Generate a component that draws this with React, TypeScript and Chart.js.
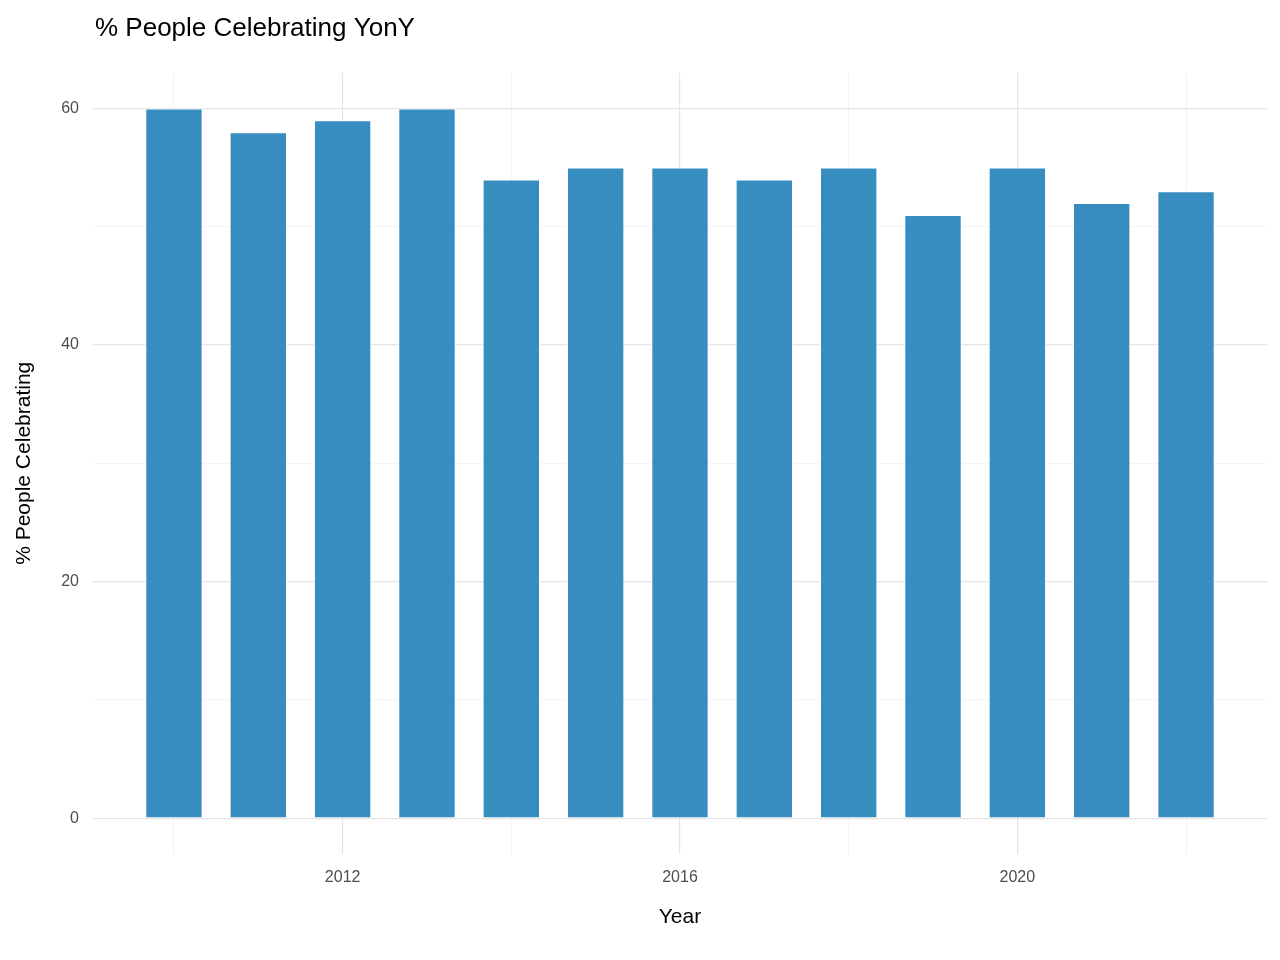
import React, { useEffect, useRef } from 'react';
import { Chart, registerables } from 'chart.js';

Chart.register(...registerables);

const years = [2010, 2011, 2012, 2013, 2014, 2015, 2016, 2017, 2018, 2019, 2020, 2021, 2022];
const pctCelebrating = [60, 58, 59, 60, 54, 55, 55, 54, 55, 51, 55, 52, 53];
const xMajorTicks = [2012, 2016, 2020];
const yMajorTicks = [0, 20, 40, 60];

const FONT = '"Liberation Sans", Arial, sans-serif';

// ggplot-like left-aligned title over the panel
const titlePlugin = {
  id: 'leftTitle',
  afterDraw(chart: any) {
    const { ctx, chartArea } = chart;
    ctx.save();
    ctx.fillStyle = '#000';
    ctx.font = `26px ${FONT}`;
    ctx.textBaseline = 'middle';
    ctx.textAlign = 'left';
    ctx.fillText('% People Celebrating YonY', chartArea.left + 2, 29);
    ctx.restore();
  },
};

export default function App() {
  const canvasRef = useRef<HTMLCanvasElement | null>(null);

  useEffect(() => {
    document.body.style.margin = '0';
    const canvas = canvasRef.current;
    if (!canvas) return;

    const chart = new Chart(canvas, {
      type: 'bar',
      data: {
        datasets: [
          {
            data: years.map((y, i) => ({ x: y, y: pctCelebrating[i] })),
            backgroundColor: '#378dbf',
            borderColor: '#ffffff',
            borderWidth: 1,
            barPercentage: 0.68,
            categoryPercentage: 1,
          },
        ],
      },
      options: {
        animation: false,
        responsive: false,
        layout: { padding: { top: 73, right: 13, bottom: 26, left: 8 } },
        plugins: { legend: { display: false }, tooltip: { enabled: false } },
        scales: {
          x: {
            type: 'linear',
            min: 2009.04,
            max: 2022.96,
            offset: false,
            border: { display: false },
            grid: {
              offset: false,
              drawTicks: false,
              color: (c: any) => (xMajorTicks.includes(c.tick?.value) ? '#e5e5e5' : '#f4f4f4'),
              lineWidth: (c: any) => (xMajorTicks.includes(c.tick?.value) ? 1.2 : 1),
            },
            afterBuildTicks: (axis: any) => {
              axis.ticks = [2010, 2012, 2014, 2016, 2018, 2020, 2022].map((v) => ({ value: v }));
            },
            ticks: {
              padding: 14,
              color: '#4d4d4d',
              font: { family: FONT, size: 16 },
              callback: (v: any) => (xMajorTicks.includes(v) ? String(v) : ''),
            },
            title: {
              display: true,
              text: 'Year',
              color: '#000',
              font: { family: FONT, size: 21 },
              padding: { top: 4 },
            },
          },
          y: {
            min: -3,
            max: 63,
            border: { display: false },
            grid: {
              drawTicks: false,
              color: (c: any) => (yMajorTicks.includes(c.tick?.value) ? '#e5e5e5' : '#f4f4f4'),
              lineWidth: (c: any) => (yMajorTicks.includes(c.tick?.value) ? 1.2 : 1),
            },
            afterBuildTicks: (axis: any) => {
              axis.ticks = [0, 10, 20, 30, 40, 50, 60].map((v) => ({ value: v }));
            },
            ticks: {
              padding: 14,
              color: '#4d4d4d',
              font: { family: FONT, size: 16 },
              callback: (v: any) => (yMajorTicks.includes(v) ? String(v) : ''),
            },
            title: {
              display: true,
              text: '% People Celebrating',
              color: '#000',
              font: { family: FONT, size: 21 },
              padding: { bottom: 10 },
            },
          },
        },
      },
      plugins: [titlePlugin],
    });

    return () => chart.destroy();
  }, []);

  return <canvas ref={canvasRef} width={1280} height={960} style={{ display: 'block' }} />;
}
